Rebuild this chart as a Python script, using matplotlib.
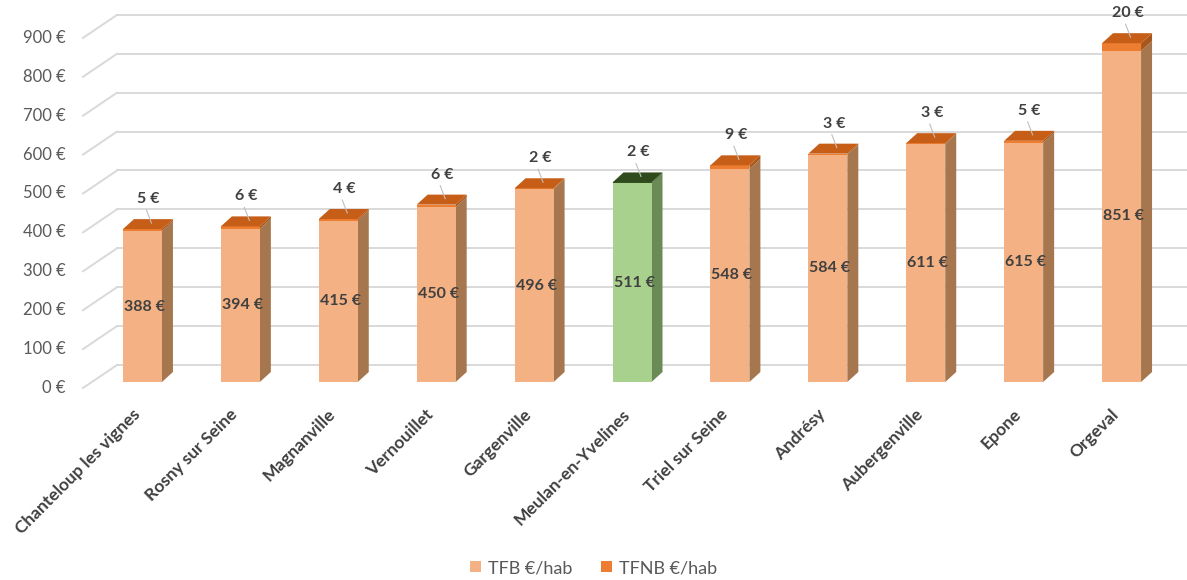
import numpy as np
import matplotlib
matplotlib.use("Agg")
from matplotlib import pyplot as plt
from matplotlib.patches import Polygon, Patch

plt.rcParams['font.family'] = ['Lato', 'DejaVu Sans']

communes = ["Chanteloup les vignes", "Rosny sur Seine", "Magnanville", "Vernouillet",
            "Gargenville", "Meulan-en-Yvelines", "Triel sur Seine", "Andrésy",
            "Aubergenville", "Epone", "Orgeval"]
tfb = [388, 394, 415, 450, 496, 511, 548, 584, 611, 615, 851]
tfnb = [5, 6, 4, 6, 2, 2, 9, 3, 3, 5, 20]
highlight = "Meulan-en-Yvelines"
yticks = list(range(0, 1000, 100))

# colours: front face, side face, top face
orange_tfb = ("#F4B183", "#A6774F")
orange_tfnb = ("#ED7D31", "#A8561B", "#C65E18")
green_tfb = ("#A9D18E", "#6A8B55")
green_tfnb = ("#385723", "#2B4419", "#2F4A1D")

W, H = 1187, 580
fig = plt.figure(figsize=(W / 100, H / 100), dpi=100)

# axes placed so that value 0 of the bar fronts sits at pixel row 382
x0_px, x1_px = 93.5, 1170.5
y0_px, py_per_unit = 382, 0.389
ymax = 950
ax = fig.add_axes([x0_px / W, (H - y0_px) / H, (x1_px - x0_px) / W, py_per_unit * ymax / H])
ax.set_xlim(-0.5, len(communes) - 0.5)
ax.set_ylim(0, ymax)
ax.axis('off')

sx = (x1_px - x0_px) / len(communes)   # pixels per category
sy = py_per_unit                        # pixels per euro

def px(dx, dy):
    return dx / sx, dy / sy

# back wall gridlines and floor diagonals
grid_col = "#D9D9D9"
back_dx, back_dy = px(117 - x0_px, 17)
front_dx, front_dy = px(83 - x0_px, -6)
xl = ax.get_xlim()[0]
right_x = xl + (W - x0_px) / sx
for v in yticks:
    ax.plot([xl + back_dx, right_x], [v + back_dy, v + back_dy], color=grid_col, lw=1.4,
            clip_on=False, zorder=0)
    ax.plot([xl + front_dx, xl + back_dx], [v + front_dy, v + back_dy], color=grid_col, lw=1.4,
            clip_on=False, zorder=0)
    ax.text(xl + px(66 - x0_px, 0)[0], v + front_dy, f"{v} €", ha='right', va='center',
            fontsize=12, color="#595959")

bw = 39 / sx
ddx, ddy = px(11, 10)

def block(x, y0, y1, front, side, top=None):
    l, r = x - bw / 2, x + bw / 2
    ax.add_patch(Polygon([(r, y0), (r + ddx, y0 + ddy), (r + ddx, y1 + ddy), (r, y1)],
                         closed=True, fc=side, ec='none', zorder=2))
    ax.add_patch(Polygon([(l, y0), (r, y0), (r, y1), (l, y1)],
                         closed=True, fc=front, ec='none', zorder=3))
    if top is not None:
        ax.add_patch(Polygon([(l, y1), (r, y1), (r + ddx, y1 + ddy), (l + ddx, y1 + ddy)],
                             closed=True, fc=top, ec='none', zorder=3))

for i, name in enumerate(communes):
    c1, c2 = (green_tfb, green_tfnb) if name == highlight else (orange_tfb, orange_tfnb)
    total = tfb[i] + tfnb[i]
    block(i, 0, tfb[i], c1[0], c1[1])
    block(i, tfb[i], total, c2[0], c2[1], c2[2])
    ax.text(i + px(2, 0)[0], tfb[i] / 2, f"{tfb[i]} €", ha='center', va='center',
            fontsize=11.5, fontweight='bold', color="#404040", zorder=5)
    lx, ly = i + px(6, 0)[0], total + px(0, 30)[1]
    ax.plot([i + px(4, 0)[0], i + px(9, 0)[0]], [total + px(0, 19)[1], total + px(0, 6)[1]],
            color="#BFBFBF", lw=0.8, zorder=4)
    ax.text(lx, ly, f"{tfnb[i]} €", ha='center', va='center', fontsize=11.5,
            fontweight='bold', color="#404040", zorder=5)
    ax.text(i - px(5, 0)[0], -px(0, 30)[1], name, rotation=45, rotation_mode='anchor',
            ha='right', va='center', fontsize=12.5, fontweight='bold', color="#404040")

handles = [Patch(fc=orange_tfb[0], ec='none', label="TFB €/hab"),
           Patch(fc=orange_tfnb[0], ec='none', label="TFNB €/hab")]
fig.legend(handles=handles, loc='center', bbox_to_anchor=(0.5, (H - 568) / H), ncol=2,
           frameon=False, fontsize=13, labelcolor="#595959", handlelength=0.6,
           handleheight=0.6, handletextpad=0.4, columnspacing=1.6)

fig.savefig("out.png", dpi=100)
